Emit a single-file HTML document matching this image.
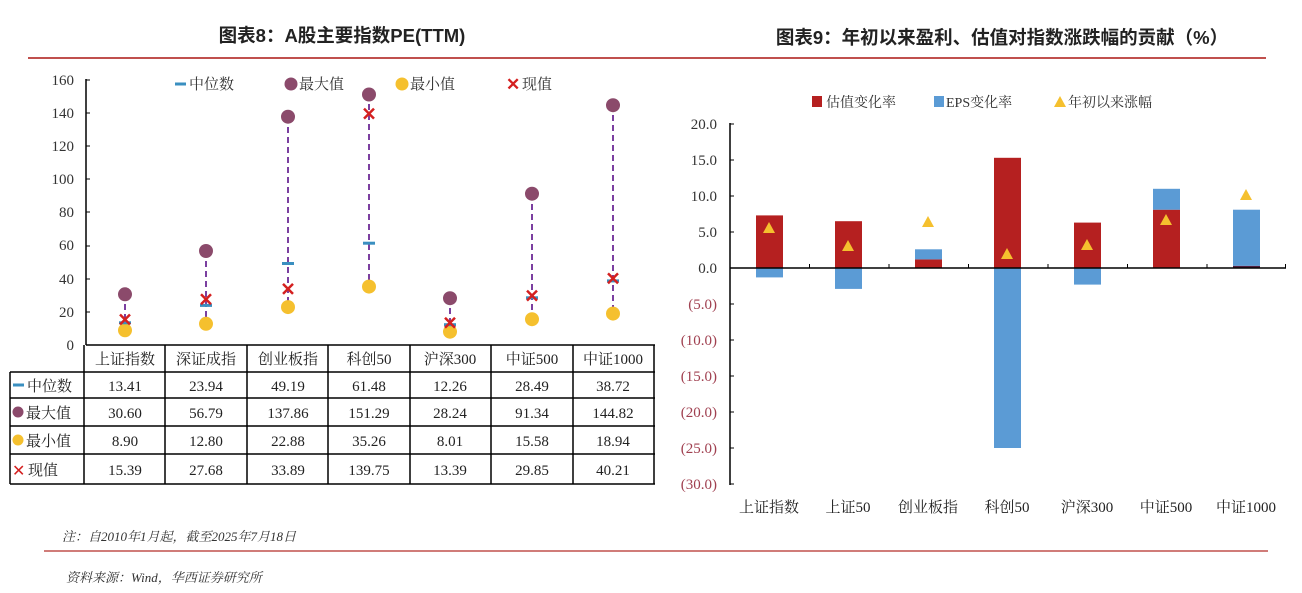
<!DOCTYPE html><html><head><meta charset="utf-8"><style>
body{margin:0;background:#fff}
svg text{font-family:"Liberation Serif","Noto Serif CJK SC",serif;}
</style></head><body>
<svg width="1302" height="588" viewBox="0 0 1302 588" xmlns="http://www.w3.org/2000/svg">
<g font-weight="bold" font-size="18.5" fill="#222">
<text x="342" y="42" text-anchor="middle" style="font-family:'Liberation Sans','Noto Sans CJK SC',sans-serif">图表8：A股主要指数PE(TTM)</text>
<text x="1002" y="44" text-anchor="middle" style="font-family:'Liberation Sans','Noto Sans CJK SC',sans-serif">图表9：年初以来盈利、估值对指数涨跌幅的贡献（%）</text>
</g>
<line x1="28" y1="58" x2="1266" y2="58" stroke="#c0504d" stroke-width="2"/>

<g font-size="15" fill="#333" text-anchor="end">
<text x="74" y="85">160</text><text x="74" y="118">140</text><text x="74" y="151">120</text><text x="74" y="184">100</text><text x="74" y="217">80</text><text x="74" y="250">60</text><text x="74" y="284">40</text><text x="74" y="317">20</text><text x="74" y="350">0</text>
</g>
<line x1="86" y1="79" x2="86" y2="345" stroke="#000" stroke-width="1.5"/>
<g stroke="#000"><line x1="86" y1="80" x2="90" y2="80"/><line x1="86" y1="113" x2="90" y2="113"/><line x1="86" y1="146" x2="90" y2="146"/><line x1="86" y1="179" x2="90" y2="179"/><line x1="86" y1="212" x2="90" y2="212"/><line x1="86" y1="246" x2="90" y2="246"/><line x1="86" y1="279" x2="90" y2="279"/><line x1="86" y1="312" x2="90" y2="312"/></g>
<line x1="175" y1="84" x2="186" y2="84" stroke="#3a8fc0" stroke-width="3"/>
<text x="189" y="89" font-size="15" fill="#333">中位数</text>
<circle cx="291" cy="84" r="6.5" fill="#8b4a6b"/><text x="299" y="89" font-size="15" fill="#333">最大值</text>
<circle cx="402" cy="84" r="6.5" fill="#f5c02e"/><text x="410" y="89" font-size="15" fill="#333">最小值</text>
<text x="506" y="90" font-size="17" fill="#d42020" font-weight="bold">✕</text><text x="522" y="89" font-size="15" fill="#333">现值</text>
<g stroke="#7b3fa0" stroke-width="2" stroke-dasharray="6,4">
<line x1="125" y1="294" x2="125" y2="330"/><line x1="206" y1="251" x2="206" y2="324"/><line x1="288" y1="117" x2="288" y2="307"/><line x1="369" y1="94" x2="369" y2="287"/><line x1="450" y1="298" x2="450" y2="332"/><line x1="532" y1="194" x2="532" y2="319"/><line x1="613" y1="105" x2="613" y2="314"/>
</g>
<g fill="#8b4a6b"><circle cx="125" cy="294.3" r="7"/><circle cx="206" cy="251" r="7"/><circle cx="288" cy="116.7" r="7"/><circle cx="369" cy="94.5" r="7"/><circle cx="450" cy="298.2" r="7"/><circle cx="532" cy="193.7" r="7"/><circle cx="613" cy="105.2" r="7"/></g>
<g fill="#f5c02e"><circle cx="125" cy="330.3" r="7"/><circle cx="206" cy="323.8" r="7"/><circle cx="288" cy="307.1" r="7"/><circle cx="369" cy="286.6" r="7"/><circle cx="450" cy="331.7" r="7"/><circle cx="532" cy="319.2" r="7"/><circle cx="613" cy="313.6" r="7"/></g>
<g stroke="#3a8fc0" stroke-width="3"><line x1="119" y1="322.8" x2="131" y2="322.8"/><line x1="200" y1="305.4" x2="212" y2="305.4"/><line x1="282" y1="263.5" x2="294" y2="263.5"/><line x1="363" y1="243.2" x2="375" y2="243.2"/><line x1="444" y1="324.7" x2="456" y2="324.7"/><line x1="526" y1="297.8" x2="538" y2="297.8"/><line x1="607" y1="280.9" x2="619" y2="280.9"/></g>
<g stroke="#d42020" stroke-width="2.5">
<path d="M120 314.5l10 10M130 314.5l-10 10"/><path d="M201 294.2l10 10M211 294.2l-10 10"/><path d="M283 283.9l10 10M293 283.9l-10 10"/><path d="M364 108.6l10 10M374 108.6l-10 10"/><path d="M445 317.8l10 10M455 317.8l-10 10"/><path d="M527 290.6l10 10M537 290.6l-10 10"/><path d="M608 273.4l10 10M618 273.4l-10 10"/>
</g>
<g stroke="#000" stroke-width="1.5" fill="none">
<line x1="86" y1="345" x2="655" y2="345"/>
<line x1="10" y1="372" x2="655" y2="372"/><line x1="10" y1="398" x2="655" y2="398"/><line x1="10" y1="426" x2="655" y2="426"/><line x1="10" y1="454" x2="655" y2="454"/><line x1="10" y1="484" x2="655" y2="484"/>
<line x1="10" y1="372" x2="10" y2="484"/><line x1="84" y1="345" x2="84" y2="484"/><line x1="165" y1="345" x2="165" y2="484"/><line x1="247" y1="345" x2="247" y2="484"/><line x1="328" y1="345" x2="328" y2="484"/><line x1="410" y1="345" x2="410" y2="484"/><line x1="491" y1="345" x2="491" y2="484"/><line x1="573" y1="345" x2="573" y2="484"/><line x1="654" y1="345" x2="654" y2="484"/>
</g>
<g font-size="15" fill="#222" text-anchor="middle">
<text x="125" y="364">上证指数</text><text x="206" y="364">深证成指</text><text x="288" y="364">创业板指</text><text x="369" y="364">科创50</text><text x="450" y="364">沪深300</text><text x="532" y="364">中证500</text><text x="613" y="364">中证1000</text>
<text x="125" y="391">13.41</text><text x="206" y="391">23.94</text><text x="288" y="391">49.19</text><text x="369" y="391">61.48</text><text x="450" y="391">12.26</text><text x="532" y="391">28.49</text><text x="613" y="391">38.72</text>
<text x="125" y="418">30.60</text><text x="206" y="418">56.79</text><text x="288" y="418">137.86</text><text x="369" y="418">151.29</text><text x="450" y="418">28.24</text><text x="532" y="418">91.34</text><text x="613" y="418">144.82</text>
<text x="125" y="446">8.90</text><text x="206" y="446">12.80</text><text x="288" y="446">22.88</text><text x="369" y="446">35.26</text><text x="450" y="446">8.01</text><text x="532" y="446">15.58</text><text x="613" y="446">18.94</text>
<text x="125" y="475">15.39</text><text x="206" y="475">27.68</text><text x="288" y="475">33.89</text><text x="369" y="475">139.75</text><text x="450" y="475">13.39</text><text x="532" y="475">29.85</text><text x="613" y="475">40.21</text>
</g>
<g font-size="15" fill="#222">
<line x1="13" y1="385" x2="24" y2="385" stroke="#3a8fc0" stroke-width="3"/><text x="27" y="391">中位数</text>
<circle cx="18" cy="412" r="5.5" fill="#8b4a6b"/><text x="26" y="418">最大值</text>
<circle cx="18" cy="440" r="5.5" fill="#f5c02e"/><text x="26" y="446">最小值</text>
<text x="12" y="476" fill="#d42020" font-size="16">✕</text><text x="28" y="475">现值</text>
</g>

<rect x="812" y="96" width="10" height="11" fill="#b52020"/><text x="826" y="107" font-size="14" fill="#333">估值变化率</text>
<rect x="934" y="96" width="10" height="11" fill="#5b9bd5"/><text x="946" y="107" font-size="14" fill="#333">EPS变化率</text>
<polygon points="1060,96 1054,107 1066,107" fill="#f5c02e"/><text x="1068" y="107" font-size="14" fill="#333">年初以来涨幅</text>
<g font-size="15" text-anchor="end">
<g fill="#333"><text x="717" y="129">20.0</text><text x="717" y="165">15.0</text><text x="717" y="201">10.0</text><text x="717" y="237">5.0</text><text x="717" y="273">0.0</text></g>
<g fill="#a04050"><text x="717" y="309">(5.0)</text><text x="717" y="345">(10.0)</text><text x="717" y="381">(15.0)</text><text x="717" y="417">(20.0)</text><text x="717" y="453">(25.0)</text><text x="717" y="489">(30.0)</text></g>
</g>
<g fill="#b52020">
<rect x="756" y="215.4" width="27" height="52.6"/><rect x="835" y="221.2" width="27" height="46.8"/><rect x="915" y="259.4" width="27" height="8.6"/><rect x="994" y="157.8" width="27" height="110.2"/><rect x="1074" y="222.6" width="27" height="45.4"/><rect x="1153" y="209.7" width="27" height="58.3"/><rect x="1233" y="265.8" width="27" height="2.2" fill="#502040"/>
</g>
<g fill="#5b9bd5">
<rect x="756" y="268" width="27" height="9.4"/><rect x="835" y="268" width="27" height="20.9"/><rect x="915" y="249.3" width="27" height="10.1"/><rect x="994" y="268" width="27" height="180"/><rect x="1074" y="268" width="27" height="16.6"/><rect x="1153" y="188.8" width="27" height="20.9"/><rect x="1233" y="209.7" width="27" height="56.1"/>
</g>
<g fill="#f5c02e">
<polygon points="769,222 763,233 775,233"/><polygon points="848,240 842,251 854,251"/><polygon points="928,216 922,227 934,227"/><polygon points="1007,248 1001,259 1013,259"/><polygon points="1087,239 1081,250 1093,250"/><polygon points="1166,214 1160,225 1172,225"/><polygon points="1246,189 1240,200 1252,200"/>
</g>
<line x1="730" y1="123" x2="730" y2="485" stroke="#000" stroke-width="1.5"/>
<g stroke="#000"><line x1="730" y1="124" x2="734" y2="124"/><line x1="730" y1="160" x2="734" y2="160"/><line x1="730" y1="196" x2="734" y2="196"/><line x1="730" y1="232" x2="734" y2="232"/><line x1="730" y1="304" x2="734" y2="304"/><line x1="730" y1="340" x2="734" y2="340"/><line x1="730" y1="376" x2="734" y2="376"/><line x1="730" y1="412" x2="734" y2="412"/><line x1="730" y1="448" x2="734" y2="448"/><line x1="730" y1="484" x2="734" y2="484"/></g>
<line x1="730" y1="268" x2="1286" y2="268" stroke="#000" stroke-width="1.5"/>
<g stroke="#000"><line x1="809.5" y1="264" x2="809.5" y2="268"/><line x1="889" y1="264" x2="889" y2="268"/><line x1="968.5" y1="264" x2="968.5" y2="268"/><line x1="1048" y1="264" x2="1048" y2="268"/><line x1="1127.5" y1="264" x2="1127.5" y2="268"/><line x1="1207" y1="264" x2="1207" y2="268"/><line x1="1285.5" y1="264" x2="1285.5" y2="268"/></g>
<g font-size="15" fill="#222" text-anchor="middle">
<text x="769" y="512">上证指数</text><text x="848" y="512">上证50</text><text x="928" y="512">创业板指</text><text x="1007" y="512">科创50</text><text x="1087" y="512">沪深300</text><text x="1166" y="512">中证500</text><text x="1246" y="512">中证1000</text>
</g>
<text x="62" y="541" font-size="13" font-style="italic" fill="#333">注：自2010年1月起，截至2025年7月18日</text>
<line x1="44" y1="551" x2="1268" y2="551" stroke="#c0504d" stroke-width="1.5"/>
<text x="66" y="582" font-size="13" font-style="italic" fill="#333">资料来源：Wind，华西证券研究所</text>
</svg>
</body></html>
